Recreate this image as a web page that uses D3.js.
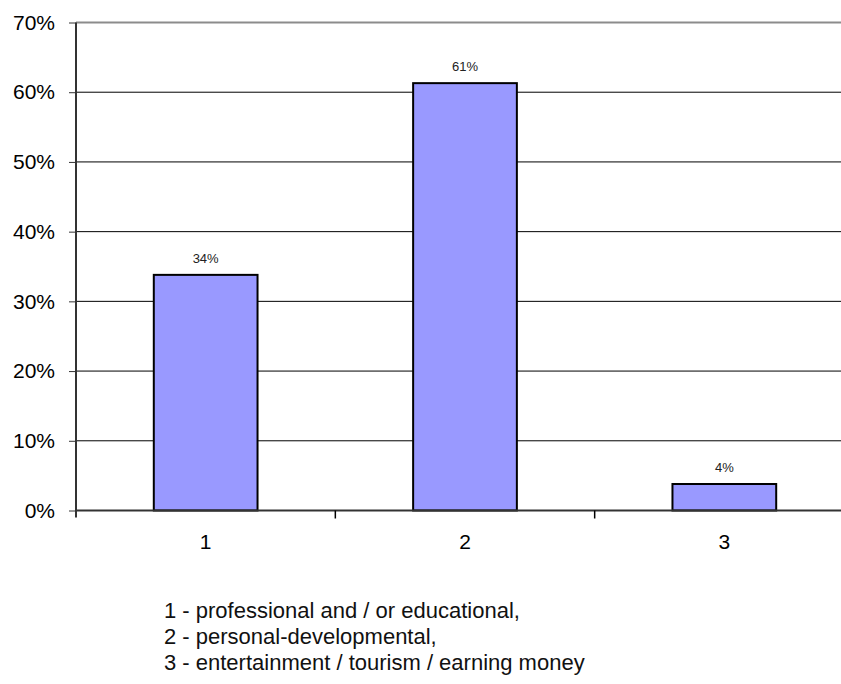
<!DOCTYPE html>
<html>
<head>
<meta charset="utf-8">
<script src="https://cdn.jsdelivr.net/npm/d3@7"></script>
<style>
  html, body { margin: 0; background: #fff; overflow: hidden; }
  svg { display: block; font-family: "Liberation Sans", Arial, sans-serif; }
</style>
</head>
<body>
<svg width="841" height="684"></svg>
<script>
// data
const categories = ['1', '2', '3'];
const values = [0.338, 0.613, 0.038];
const valueLabels = ['34%', '61%', '4%'];
const yTicks = [0, 0.1, 0.2, 0.3, 0.4, 0.5, 0.6, 0.7];
const legendLines = [
  '1 - professional and / or educational,',
  '2 - personal-developmental,',
  '3 - entertainment / tourism / earning money'
];

const svg = d3.select('svg');
const width = +svg.attr('width');

const margin = {top: 22.5, left: 76};
const innerWidth = 778;   // plot runs past the right edge, as in the original
const innerHeight = 488;
const visibleWidth = width - margin.left;

const xScale = d3.scaleBand()
  .domain(categories)
  .range([0, innerWidth])
  .paddingInner(0.6)
  .paddingOuter(0.3);

const yScale = d3.scaleLinear()
  .domain([0, 0.7])
  .range([innerHeight, 0]);

const g = svg.append('g')
  .attr('transform', `translate(${margin.left}, ${margin.top})`);

// gridlines (cut at the page edge)
g.selectAll('.grid').data(yTicks.filter(d => d > 0))
  .enter().append('line')
  .attr('class', 'grid')
  .attr('x1', 0)
  .attr('x2', visibleWidth)
  .attr('y1', d => yScale(d))
  .attr('y2', d => yScale(d))
  .attr('stroke', d => d === 0.7 ? '#8c8c8c' : '#000')
  .attr('stroke-width', d => d === 0.7 ? 2 : 1);

// y axis
const yAxis = d3.axisLeft(yScale)
  .tickValues(yTicks)
  .tickFormat(d3.format('.0%'))
  .tickSize(7)
  .tickPadding(14);

const yAxisG = g.append('g').call(yAxis);
yAxisG.select('.domain')
  .attr('d', `M0,${innerHeight + 7}V0`)
  .attr('stroke', '#333')
  .attr('stroke-width', 2);
yAxisG.selectAll('.tick line').attr('stroke', '#333');
yAxisG.selectAll('.tick text')
  .attr('font-size', 21)
  .attr('fill', '#000');

// bars
g.selectAll('rect').data(values)
  .enter().append('rect')
  .attr('x', (d, i) => xScale(categories[i]))
  .attr('y', d => yScale(d))
  .attr('width', xScale.bandwidth())
  .attr('height', d => innerHeight - yScale(d))
  .attr('fill', '#9999ff')
  .attr('stroke', '#000')
  .attr('stroke-width', 2);

// value labels
g.selectAll('.value').data(values)
  .enter().append('text')
  .attr('class', 'value')
  .attr('x', (d, i) => xScale(categories[i]) + xScale.bandwidth() / 2)
  .attr('y', d => yScale(d) - 12)
  .attr('text-anchor', 'middle')
  .attr('font-size', 13)
  .attr('fill', '#222')
  .text((d, i) => valueLabels[i]);

// x axis: ticks at category boundaries
const step = xScale.step();
const xAxisG = g.append('g')
  .attr('transform', `translate(0, ${innerHeight})`);
xAxisG.append('line')
  .attr('x1', 0)
  .attr('x2', visibleWidth)
  .attr('stroke', '#333')
  .attr('stroke-width', 2);
xAxisG.selectAll('.xtick').data(categories.slice(1))
  .enter().append('line')
  .attr('class', 'xtick')
  .attr('x1', (d, i) => (i + 1) * step)
  .attr('x2', (d, i) => (i + 1) * step)
  .attr('y1', 0)
  .attr('y2', 8)
  .attr('stroke', '#000')
  .attr('stroke-width', 1.5);
xAxisG.selectAll('.xlabel').data(categories)
  .enter().append('text')
  .attr('class', 'xlabel')
  .attr('x', d => xScale(d) + xScale.bandwidth() / 2)
  .attr('y', 38)
  .attr('text-anchor', 'middle')
  .attr('font-size', 21)
  .text(d => d);

// legend text
svg.append('g')
  .selectAll('text').data(legendLines)
  .enter().append('text')
  .attr('x', 164)
  .attr('y', (d, i) => 618 + i * 26)
  .attr('font-size', 22)
  .attr('fill', '#111')
  .text(d => d);
</script>
</body>
</html>
